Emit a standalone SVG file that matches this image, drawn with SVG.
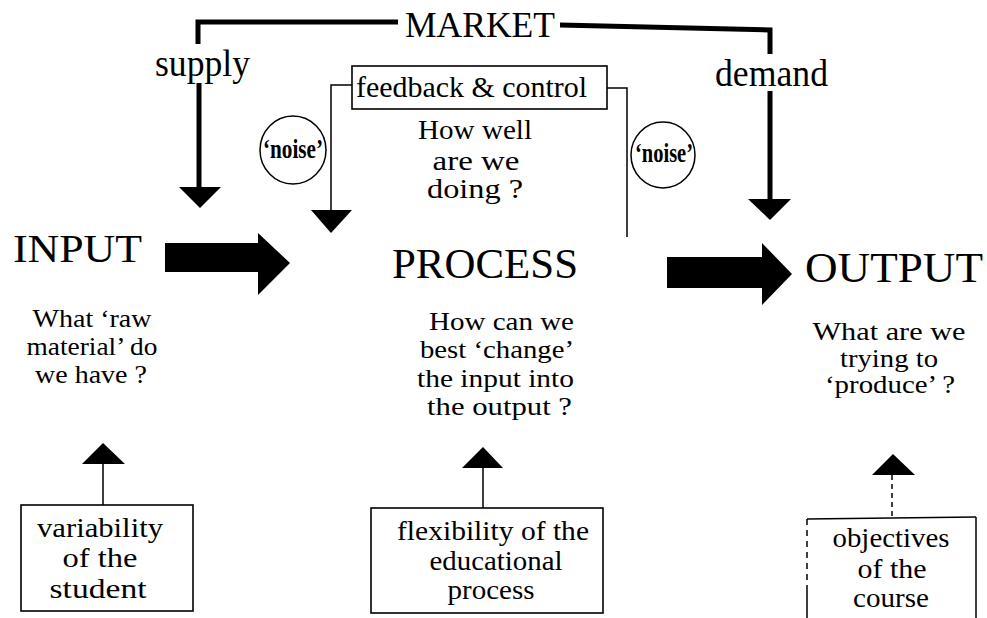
<svg xmlns="http://www.w3.org/2000/svg" width="987" height="618" viewBox="0 0 987 618">
<style>
text{font-family:"Liberation Serif","Times New Roman",serif;fill:#000}
.thick{fill:none;stroke:#000;stroke-width:5;stroke-linecap:butt;stroke-linejoin:miter}
.thin{fill:none;stroke:#000;stroke-width:1.5}
.box{fill:#fff;stroke:#000;stroke-width:1.6}
.head{fill:#000}
.c{text-anchor:middle}
.e{text-anchor:end}
.q{font-size:26px}
.b{font-size:27px}
.n{font-size:28px;font-weight:bold}
</style>
<rect width="987" height="618" fill="#fff"/>
<g id="connectors">
  <path class="thick" d="M198,44 V22 H398"/>
  <path class="thick" d="M560,25 L770,30 V54"/>
  <line class="thick" x1="199" y1="83" x2="199" y2="189" stroke-width="6"/>
  <polygon class="head" points="179,187 221,187 200,208"/>
  <line class="thick" x1="770" y1="91" x2="770" y2="201" stroke-width="6"/>
  <polygon class="head" points="748,199 791,199 770,220"/>
  <path class="thin" d="M352,85 H331 V211"/>
  <polygon class="head" points="311,210 352,210 331,233"/>
  <path class="thin" d="M607,88 H627 V237"/>
  <polygon class="head" points="165,243 258,243 258,233 290,263 258,295 258,272 165,272"/>
  <polygon class="head" points="667,257 762,257 762,243 792,274 762,305 762,288 667,288"/>
  <line class="thin" x1="103" y1="463" x2="103" y2="505"/>
  <polygon class="head" points="82,464 125,464 103,443"/>
  <line class="thin" x1="483" y1="467" x2="483" y2="509"/>
  <polygon class="head" points="462,468 503,468 483,447"/>
  <line class="thin" x1="892" y1="475" x2="892" y2="517" stroke-dasharray="5,4" stroke-width="1.2"/>
  <polygon class="head" points="872,475 915,475 893,454"/>
</g>
<g id="market">
  <text x="405" y="37" font-size="35" textLength="150" lengthAdjust="spacingAndGlyphs">MARKET</text>
</g>
<g id="supply">
  <text x="155" y="76" font-size="37" textLength="95" lengthAdjust="spacingAndGlyphs">supply</text>
</g>
<g id="demand">
  <text x="715" y="86" font-size="37" textLength="113" lengthAdjust="spacingAndGlyphs">demand</text>
</g>
<g id="feedback">
  <rect class="box" x="352" y="66" width="255" height="43"/>
  <text x="356" y="97" font-size="30" textLength="231" lengthAdjust="spacingAndGlyphs">feedback &amp; control</text>
  <text class="c b" x="475" y="139" textLength="114" lengthAdjust="spacingAndGlyphs">How well</text>
  <text class="c b" x="476" y="170" textLength="87" lengthAdjust="spacingAndGlyphs">are we</text>
  <text class="c b" x="475" y="198" textLength="96" lengthAdjust="spacingAndGlyphs">doing ?</text>
</g>
<g id="noise-left">
  <ellipse class="thin" cx="293" cy="150" rx="33" ry="34"/>
  <text class="n" x="263" y="158" textLength="60" lengthAdjust="spacingAndGlyphs">‘noise’</text>
</g>
<g id="noise-right">
  <ellipse class="thin" cx="663" cy="155" rx="32" ry="33"/>
  <text class="n" x="635" y="162" textLength="58" lengthAdjust="spacingAndGlyphs">‘noise’</text>
</g>
<g id="input">
  <text x="13" y="262" font-size="40" textLength="129" lengthAdjust="spacingAndGlyphs">INPUT</text>
  <text class="c q" x="92" y="327" textLength="119" lengthAdjust="spacingAndGlyphs">What ‘raw</text>
  <text class="c q" x="92" y="355" textLength="131" lengthAdjust="spacingAndGlyphs">material’ do</text>
  <text class="c q" x="91" y="383" textLength="112" lengthAdjust="spacingAndGlyphs">we have ?</text>
</g>
<g id="process">
  <text x="392" y="278" font-size="42" textLength="186" lengthAdjust="spacingAndGlyphs">PROCESS</text>
  <text class="e q" x="574" y="330" textLength="145" lengthAdjust="spacingAndGlyphs">How can we</text>
  <text class="e q" x="574" y="358" textLength="154" lengthAdjust="spacingAndGlyphs">best ‘change’</text>
  <text class="e q" x="574" y="387" textLength="157" lengthAdjust="spacingAndGlyphs">the input into</text>
  <text class="e q" x="572" y="415" textLength="145" lengthAdjust="spacingAndGlyphs">the output ?</text>
</g>
<g id="output">
  <text x="805" y="282" font-size="42" textLength="178" lengthAdjust="spacingAndGlyphs">OUTPUT</text>
  <text class="c" x="889" y="340" font-size="25" textLength="153" lengthAdjust="spacingAndGlyphs">What are we</text>
  <text class="c" x="889" y="367" font-size="25" textLength="98" lengthAdjust="spacingAndGlyphs">trying to</text>
  <text class="c" x="890" y="393" font-size="25" textLength="130" lengthAdjust="spacingAndGlyphs">‘produce’ ?</text>
</g>
<g id="variability">
  <rect class="box" x="21" y="505" width="172" height="106"/>
  <text class="c b" x="100" y="537" textLength="126" lengthAdjust="spacingAndGlyphs">variability</text>
  <text class="c b" x="100" y="567" textLength="75" lengthAdjust="spacingAndGlyphs">of the</text>
  <text class="c b" x="98" y="598" textLength="97" lengthAdjust="spacingAndGlyphs">student</text>
</g>
<g id="flexibility">
  <rect class="box" x="371" y="508" width="232" height="105"/>
  <text class="c b" x="493" y="540" textLength="192" lengthAdjust="spacingAndGlyphs">flexibility of the</text>
  <text class="c b" x="496" y="570" textLength="133" lengthAdjust="spacingAndGlyphs">educational</text>
  <text class="c b" x="491" y="599" textLength="87" lengthAdjust="spacingAndGlyphs">process</text>
</g>
<g id="objectives">
  <path class="thin" d="M807,519 L976,517"/>
  <path class="thin" d="M976,517 V618"/>
  <path class="thin" d="M807,519 V585" stroke-dasharray="6,5" stroke-width="1.1"/>
  <path class="thin" d="M807,585 V618"/>
  <text class="c b" x="891" y="547" textLength="117" lengthAdjust="spacingAndGlyphs">objectives</text>
  <text class="c b" x="892" y="578" textLength="69" lengthAdjust="spacingAndGlyphs">of the</text>
  <text class="c b" x="891" y="607" textLength="76" lengthAdjust="spacingAndGlyphs">course</text>
</g>
</svg>
